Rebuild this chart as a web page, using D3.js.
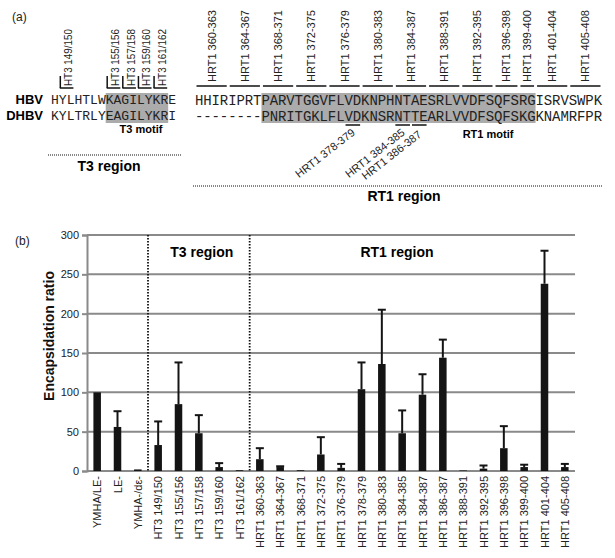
<!DOCTYPE html>
<html><head><meta charset="utf-8">
<script src="https://cdn.jsdelivr.net/npm/d3@7"></script>
<style>
body{margin:0;background:#fff;}
svg{display:block;font-family:"Liberation Sans",Arial,sans-serif;}
</style></head>
<body>
<svg id="c" width="615" height="558"></svg>
<script>
// ---------- data ----------
const categories = ["YMHA/LE-","LE-","YMHA-/dε-","HT3 149/150","HT3 155/156","HT3 157/158","HT3 159/160","HT3 161/162",
  "HRT1 360-363","HRT1 364-367","HRT1 368-371","HRT1 372-375","HRT1 376-379","HRT1 378-379","HRT1 380-383",
  "HRT1 384-385","HRT1 384-387","HRT1 386-387","HRT1 388-391","HRT1 392-395","HRT1 396-398","HRT1 399-400",
  "HRT1 401-404","HRT1 405-408"];
const values = [100,56,2,33,85,48,5,1,15,5,1,21,4,104,136,48,97,144,0.7,3,29,5,238,5];
const errors = [0,20,0,30,53,23,5,0,14,1,0,22,5,34,69,29,26,23,0,4,28,3,42,4];
const yTicks = [0,50,100,150,200,250,300];

const hbvLeft = "HYLHTLWKAGILYKRE";
const dhbvLeft = "KYLTRLYEAGILYKRI";
const hbvRight = "HHIRIPRTPARVTGGVFLVDKNPHNTAESRLVVDFSQFSRGISRVSWPK";
const dhbvRight = "--------PNRITGKLFLVDKNSRNTTEARLVVDFSQFSKGKNAMRFPR";
const t3Labels = ["HT3 149/150","HT3 155/156","HT3 157/158","HT3 159/160","HT3 161/162"];
const t3Spans = [[1,2],[7,8],[9,10],[11,12],[13,14]];
const rt1TopLabels = ["HRT1 360-363","HRT1 364-367","HRT1 368-371","HRT1 372-375","HRT1 376-379","HRT1 380-383",
  "HRT1 384-387","HRT1 388-391","HRT1 392-395","HRT1 396-398","HRT1 399-400","HRT1 401-404","HRT1 405-408"];
const rt1TopSpans = [[0,3],[4,7],[8,11],[12,15],[16,19],[20,23],[24,27],[28,31],[32,35],[36,38],[39,40],[41,44],[45,48]];
const rt1BottomLabels = ["HRT1 378-379","HRT1 384-385","HRT1 386-387"];
const rt1BottomSpans = [[18,19],[24,25],[26,27]];
const t3Motif = [7,14], rt1Motif = [8,40];

const svg = d3.select("#c");
svg.append("rect").attr("width",615).attr("height",558).attr("fill","#fff");

// ---------- panel (a) ----------
const a = svg.append("g");
a.append("text").attr("x",12).attr("y",21).attr("font-size",12).attr("fill","#222").text("(a)");

const colL = d3.scaleLinear().domain([0,hbvLeft.length]).range([51,176]);
const colR = d3.scaleLinear().domain([0,hbvRight.length]).range([195,602]);
const rowY = {hbv:105, dhbv:121};

// shading
a.append("rect").attr("x",colL(t3Motif[0])).attr("width",colL(t3Motif[1]+1)-colL(t3Motif[0]))
  .attr("y",93).attr("height",30).attr("fill","#ababab");
a.append("rect").attr("x",colR(rt1Motif[0])).attr("width",colR(rt1Motif[1]+1)-colR(rt1Motif[0]))
  .attr("y",93).attr("height",30).attr("fill","#ababab");

a.append("text").attr("x",43).attr("y",rowY.hbv-1).attr("text-anchor","end").attr("font-weight","bold").attr("font-size",13).text("HBV");
a.append("text").attr("x",43).attr("y",rowY.dhbv-1).attr("text-anchor","end").attr("font-weight","bold").attr("font-size",13).text("DHBV");

function seq(str, scale, y, fs){
  a.append("g").selectAll("text").data(str.split("")).join("text")
    .attr("x",(d,i)=>(scale(i)+scale(i+1))/2).attr("y",y)
    .attr("text-anchor","middle").attr("font-family","'Liberation Mono','Courier New',monospace")
    .attr("font-size",fs).attr("fill","#222").text(d=>d);
}
seq(hbvLeft,colL,rowY.hbv-1,13);
seq(dhbvLeft,colL,rowY.dhbv-1,13);
seq(hbvRight,colR,rowY.hbv,14);
seq(dhbvRight,colR,rowY.dhbv,14);

// T3 top labels
t3Labels.forEach((lab,i)=>{
  const [s,e]=t3Spans[i]; const x0=colL(s)+1, x1=colL(e+1)-1, cx=(x0+x1)/2;
  a.append("line").attr("x1",x0).attr("x2",x1).attr("y1",88).attr("y2",88).attr("stroke","#111").attr("stroke-width",1.5);
  a.append("line").attr("x1",x0+0.5).attr("x2",x0+0.5).attr("y1",88).attr("y2",76).attr("stroke","#111").attr("stroke-width",1.5);
  a.append("text").attr("transform",`translate(${cx+5.5},86) rotate(-90)`).attr("font-size",11)
    .attr("textLength",57).attr("lengthAdjust","spacingAndGlyphs").attr("fill","#222").text(lab);
});
// RT1 top labels
rt1TopLabels.forEach((lab,i)=>{
  const [s,e]=rt1TopSpans[i]; const x0=colR(s)+1.5, x1=colR(e+1)-1.5, cx=(x0+x1)/2;
  a.append("line").attr("x1",x0).attr("x2",x1).attr("y1",86).attr("y2",86).attr("stroke","#111").attr("stroke-width",1.5);
  a.append("text").attr("transform",`translate(${cx+4},82) rotate(-90)`).attr("font-size",11).attr("fill","#222").text(lab);
});
// RT1 bottom labels
rt1BottomLabels.forEach((lab,i)=>{
  const [s,e]=rt1BottomSpans[i]; const x0=colR(s)+1, x1=colR(e+1)-1, cx=(x0+x1)/2;
  a.append("line").attr("x1",x0).attr("x2",x1).attr("y1",125).attr("y2",125).attr("stroke","#111").attr("stroke-width",1.5);
  a.append("text").attr("transform",`translate(${cx+3},${134+(i===2?2:0)}) rotate(-38)`).attr("text-anchor","end")
    .attr("font-size",11).attr("fill","#222").text(lab);
});
a.append("text").attr("x",141).attr("y",133).attr("text-anchor","middle").attr("font-weight","bold").attr("font-size",11).text("T3 motif");
a.append("text").attr("x",488).attr("y",138).attr("text-anchor","middle").attr("font-weight","bold").attr("font-size",11).text("RT1 motif");

a.append("line").attr("x1",48).attr("x2",182).attr("y1",155).attr("y2",155).attr("stroke","#111").attr("stroke-width",1.2).attr("stroke-dasharray","1,1");
a.append("text").attr("x",109).attr("y",171).attr("text-anchor","middle").attr("font-weight","bold").attr("font-size",14).text("T3 region");
a.append("line").attr("x1",193).attr("x2",602).attr("y1",186).attr("y2",186).attr("stroke","#111").attr("stroke-width",1.2).attr("stroke-dasharray","1,1");
a.append("text").attr("x",404).attr("y",201).attr("text-anchor","middle").attr("font-weight","bold").attr("font-size",14).text("RT1 region");

// ---------- panel (b) ----------
const L=87, R=575, T=235, B=471;
const x = d3.scaleBand().domain(categories).range([L,R]).paddingInner(0.63).paddingOuter(0.315);
const y = d3.scaleLinear().domain([0,300]).range([B,T]);
const b = svg.append("g");
b.append("text").attr("x",15).attr("y",245).attr("font-size",12).attr("fill","#222").text("(b)");

// gridlines
b.append("g").selectAll("line").data(yTicks).join("line")
  .attr("x1",L).attr("x2",R).attr("y1",d=>y(d)).attr("y2",d=>y(d)).attr("stroke","#8a8a8a").attr("stroke-width",2);
// y axis
const yAxis = d3.axisLeft(y).tickValues(yTicks).tickSize(5).tickPadding(3);
const ga = b.append("g").attr("transform",`translate(${L},0)`).call(yAxis);
ga.select(".domain").attr("stroke","#8a8a8a").attr("stroke-width",2);
ga.selectAll(".tick line").attr("stroke","#8a8a8a").attr("stroke-width",2);
ga.selectAll(".tick text").attr("font-size",11).attr("fill","#222").attr("font-family","'Liberation Sans',Arial,sans-serif");

// separators
const step = x.step();
[3,8].forEach(i=>{
  const xs = x(categories[i]) - (step - x.bandwidth())/2;
  b.append("line").attr("x1",xs).attr("x2",xs).attr("y1",y(300)).attr("y2",y(0))
   .attr("stroke","#111").attr("stroke-width",1.8).attr("stroke-dasharray","1.5,1.5");
});

// bars
b.append("g").selectAll("rect").data(values).join("rect")
  .attr("x",(d,i)=>x(categories[i])).attr("width",x.bandwidth())
  .attr("y",d=>y(d)).attr("height",d=>y(0)-y(d)).attr("fill","#141414");
// error bars
const eg = b.append("g").attr("stroke","#141414").attr("stroke-width",2);
values.forEach((v,i)=>{
  if(!errors[i]) return;
  const cx = x(categories[i]) + x.bandwidth()/2;
  eg.append("line").attr("x1",cx).attr("x2",cx).attr("y1",y(v)).attr("y2",y(v+errors[i]));
  eg.append("line").attr("x1",cx-4).attr("x2",cx+4).attr("y1",y(v+errors[i])).attr("y2",y(v+errors[i]));
});

// x labels
b.append("g").selectAll("text").data(categories).join("text")
  .attr("transform",d=>`translate(${x(d)+x.bandwidth()/2+4},476) rotate(-90)`)
  .attr("text-anchor","end").attr("font-size",11).attr("fill","#222").text(d=>d);

// y label
b.append("text").attr("transform",`translate(54,336) rotate(-90)`).attr("text-anchor","middle")
  .attr("font-weight","bold").attr("font-size",14).attr("fill","#111").text("Encapsidation ratio");

// region labels in chart
const sep1 = x(categories[3]) - (step - x.bandwidth())/2, sep2 = x(categories[8]) - (step - x.bandwidth())/2;
b.append("text").attr("x",(sep1+sep2)/2+3).attr("y",257).attr("text-anchor","middle").attr("font-weight","bold").attr("font-size",14).text("T3 region");
b.append("text").attr("x",397).attr("y",257).attr("text-anchor","middle").attr("font-weight","bold").attr("font-size",14).text("RT1 region");
</script>
</body></html>
